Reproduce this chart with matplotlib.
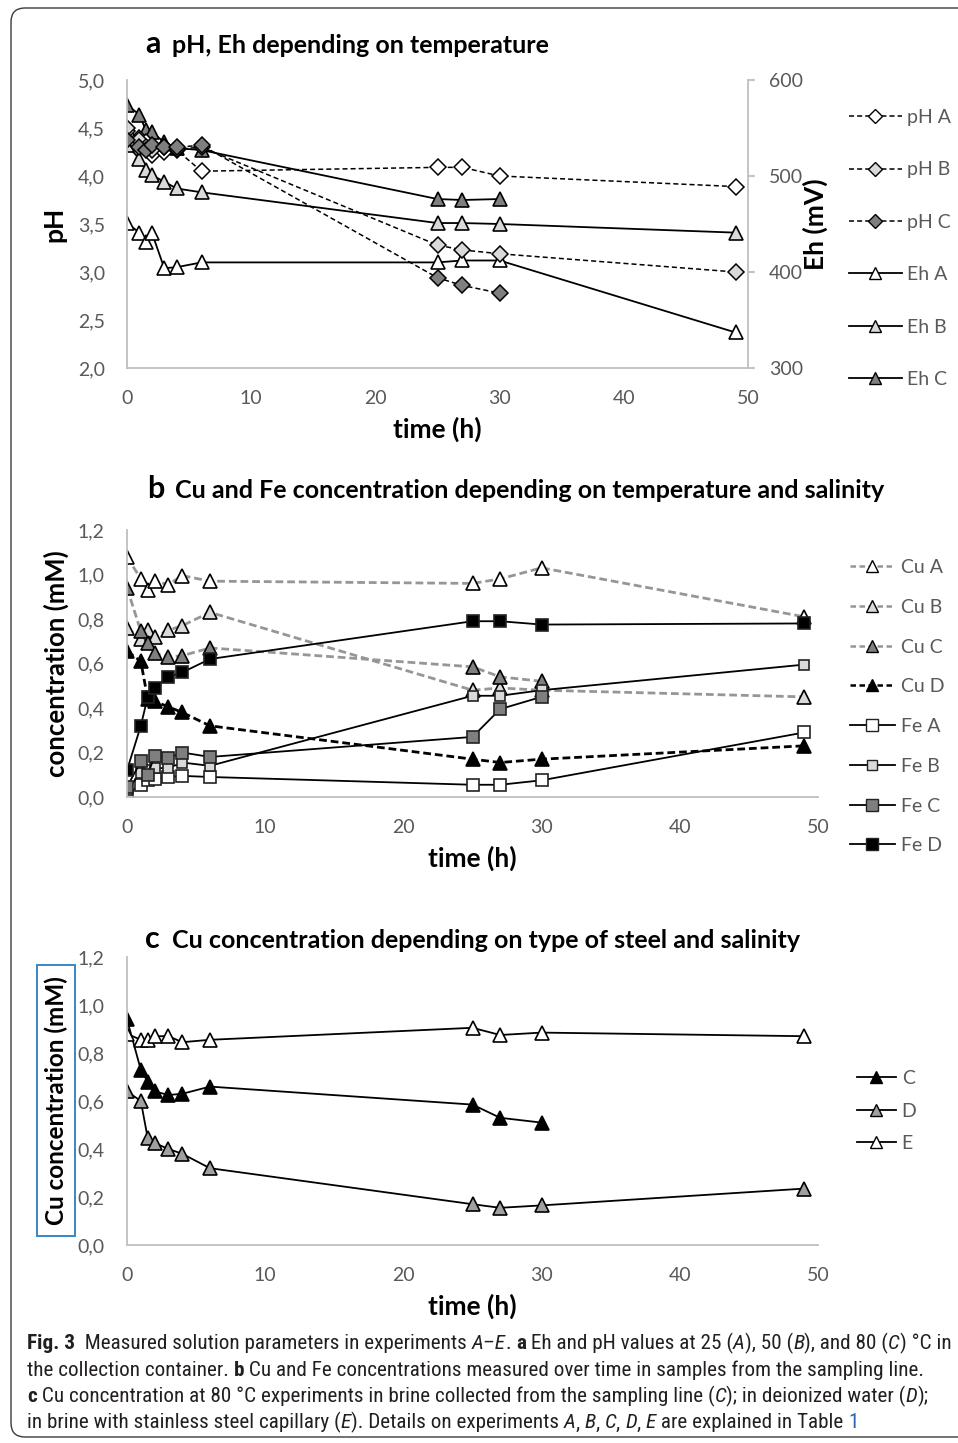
import numpy as np
import matplotlib.pyplot as plt
from matplotlib.lines import Line2D
from matplotlib.patches import FancyBboxPatch, Rectangle
from matplotlib.transforms import IdentityTransform

plt.rcParams['font.family'] = ['Lato', 'DejaVu Sans']

W, H = 958, 1443
TICK_GRAY = '#595959'
AXIS_GRAY = '#BFBFBF'
LIGHT = '#D9D9D9'
DARK = '#7F7F7F'
MIDG = '#A0A0A0'
CU_GRAY = '#969696'
CAP_FONT = ['Roboto Condensed', 'Noto Sans Condensed', 'Liberation Sans Narrow', 'DejaVu Sans']

# ---- panel a: pH / Eh vs time ----
time_a = [0, 1, 1.5, 2, 3, 4, 6, 25, 27, 30, 49]
time_a_c = [0, 1, 1.5, 2, 3, 4, 6, 25, 27, 30]
ph_A = [4.47, 4.40, 4.35, 4.22, 4.25, 4.27, 4.05, 4.09, 4.09, 4.00, 3.89]
ph_B = [4.50, 4.38, 4.30, 4.27, 4.30, 4.28, 4.30, 3.28, 3.23, 3.19, 3.00]
ph_C = [4.37, 4.30, 4.27, 4.32, 4.30, 4.30, 4.32, 2.94, 2.86, 2.78]
eh_A = [451, 441, 431, 441, 404, 405, 410, 410, 412, 412, 337]
eh_B = [532, 518, 506, 501, 494, 487, 483, 451, 451, 450, 441]
eh_C = [574, 564, 548, 546, 535, 529, 527, 476, 475, 476]
ph_ticks = [2.0, 2.5, 3.0, 3.5, 4.0, 4.5, 5.0]
ph_ticklabels = ['2,0', '2,5', '3,0', '3,5', '4,0', '4,5', '5,0']
eh_ticks = [300, 400, 500, 600]

# ---- panel b: Cu and Fe ----
time_b = [0, 1, 1.5, 2, 3, 4, 6, 25, 27, 30, 49]
time_b_c = [0, 1, 1.5, 2, 3, 4, 6, 25, 27, 30]
cu_A = [1.08, 0.98, 0.93, 0.97, 0.955, 0.995, 0.97, 0.96, 0.98, 1.03, 0.81]
cu_B = [0.76, 0.71, 0.75, 0.72, 0.75, 0.77, 0.83, 0.48, 0.49, 0.48, 0.45]
cu_C = [0.94, 0.745, 0.69, 0.645, 0.63, 0.635, 0.67, 0.585, 0.54, 0.52]
cu_D = [0.655, 0.61, 0.44, 0.43, 0.405, 0.38, 0.32, 0.17, 0.155, 0.17, 0.23]
fe_A = [0.01, 0.055, 0.075, 0.08, 0.09, 0.095, 0.09, 0.055, 0.055, 0.075, 0.29]
fe_B = [0.03, 0.11, 0.12, 0.13, 0.13, 0.155, 0.14, 0.455, 0.455, 0.48, 0.595]
fe_C = [0.045, 0.16, 0.10, 0.185, 0.175, 0.20, 0.18, 0.27, 0.395, 0.45]
fe_D = [0.12, 0.32, 0.45, 0.49, 0.54, 0.56, 0.62, 0.79, 0.79, 0.775, 0.78]

# ---- panel c: Cu by steel type ----
time_c = [0, 1, 1.5, 2, 3, 4, 6, 25, 27, 30, 49]
time_c_c = [0, 1, 1.5, 2, 3, 4, 6, 25, 27, 30]
cu_c_C = [0.94, 0.73, 0.68, 0.64, 0.625, 0.63, 0.66, 0.585, 0.53, 0.51]
cu_c_D = [0.64, 0.60, 0.445, 0.425, 0.40, 0.38, 0.32, 0.17, 0.155, 0.165, 0.235]
cu_c_E = [0.88, 0.855, 0.855, 0.87, 0.87, 0.845, 0.855, 0.905, 0.875, 0.885, 0.87]

conc_ticks = [0.0, 0.2, 0.4, 0.6, 0.8, 1.0, 1.2]
conc_ticklabels = ['0,0', '0,2', '0,4', '0,6', '0,8', '1,0', '1,2']
time_ticks = [0, 10, 20, 30, 40, 50]


def box(left, top, right, bottom):
    # pixel box -> figure fraction rect
    return [left / W, 1 - bottom / H, (right - left) / W, (bottom - top) / H]


def style_axis(ax):
    for s in ['top', 'right']:
        ax.spines[s].set_visible(False)
    for s in ['left', 'bottom']:
        ax.spines[s].set_color(AXIS_GRAY)
        ax.spines[s].set_linewidth(1.3)
    ax.tick_params(length=0, colors=TICK_GRAY, labelsize=14)
    ax.tick_params(axis='x', pad=16)
    ax.tick_params(axis='y', pad=16)
    ax.set_xlim(0, 50)
    ax.set_xticks(time_ticks)
    ax.set_xlabel('time (h)', fontsize=19, fontweight='bold', labelpad=7)


fig = plt.figure(figsize=(W / 100, H / 100), dpi=100)

frame = FancyBboxPatch((11, 6), 990, H - 14, boxstyle='round,pad=0,rounding_size=14',
                       transform=IdentityTransform(), fill=False, ec='#3a3a3a', lw=1.0)
fig.patches.append(frame)

ph_kw = dict(color='black', lw=1.1, dashes=(3.3, 2.0), marker='D', ms=8, mec='black', mew=1.1)
eh_kw = dict(color='black', lw=1.3, marker='^', ms=10, mec='black', mew=1.2)

# ---------- a ----------
ax_a = fig.add_axes(box(127, 80, 748, 368))
style_axis(ax_a)
ax_a.set_ylim(2.0, 5.0)
ax_a.set_yticks(ph_ticks)
ax_a.set_yticklabels(ph_ticklabels)
ax_a.set_ylabel('pH', fontsize=19, fontweight='bold', labelpad=8)
ax2 = ax_a.twinx()
ax2.set_ylim(300, 600)
ax2.set_yticks(eh_ticks)
for s in ['top', 'left', 'bottom']:
    ax2.spines[s].set_visible(False)
ax2.spines['right'].set_color(AXIS_GRAY)
ax2.spines['right'].set_linewidth(1.3)
ax2.tick_params(axis='y', length=5, width=1.3, color=AXIS_GRAY, labelcolor=TICK_GRAY,
                labelsize=14, pad=10)
ax2.set_ylabel('Eh (mV)', fontsize=19, fontweight='bold', labelpad=0)

ax2.plot(time_a, eh_A, mfc='white', **eh_kw)
ax2.plot(time_a, eh_B, mfc=LIGHT, **eh_kw)
ax2.plot(time_a_c, eh_C, mfc=DARK, **eh_kw)
ax_a.plot(time_a, ph_A, mfc='white', **ph_kw)
ax_a.plot(time_a, ph_B, mfc=LIGHT, **ph_kw)
ax_a.plot(time_a_c, ph_C, mfc=DARK, **ph_kw)
ax_a.set_zorder(ax2.get_zorder() + 1)
ax_a.patch.set_visible(False)

leg_kw = dict(frameon=False, fontsize=14, labelcolor=TICK_GRAY, handletextpad=0.3,
              borderaxespad=0, borderpad=0, numpoints=1)

h_a = [Line2D([], [], color='black', lw=1.1, dashes=(3.3, 2.0), marker='D', ms=7,
              mec='black', mfc=c) for c in ['white', LIGHT, DARK]]
h_a += [Line2D([], [], color='black', lw=1.3, marker='^', ms=9, mec='black', mfc=c)
        for c in ['white', LIGHT, DARK]]
fig.legend(h_a, ['pH A', 'pH B', 'pH C', 'Eh A', 'Eh B', 'Eh C'], loc='upper left',
           bbox_to_anchor=(849 / W, 1 - 109 / H), labelspacing=1.82, handlelength=2.7, **leg_kw)

fig.text(145 / W, 1 - 53 / H, 'a', fontsize=22, fontweight='bold')
fig.text(172 / W, 1 - 53 / H, 'pH, Eh depending on temperature', fontsize=18, fontweight='bold')

# ---------- b ----------
ax_b = fig.add_axes(box(127, 530, 818, 797))
style_axis(ax_b)
ax_b.set_ylim(0, 1.2)
ax_b.set_yticks(conc_ticks)
ax_b.set_yticklabels(conc_ticklabels)
ax_b.set_ylabel('concentration (mM)', fontsize=18.5, fontweight='bold', labelpad=6)

cu_kw = dict(lw=2.0, dashes=(2.8, 1.4), marker='^', ms=10, mec='black', mew=1.2)
fe_kw = dict(color='black', lw=1.3, marker='s', ms=9, mec='#222222', mew=1.2)
ax_b.plot(time_b, cu_A, color=CU_GRAY, mfc='white', **cu_kw)
ax_b.plot(time_b, cu_B, color=CU_GRAY, mfc=LIGHT, **cu_kw)
ax_b.plot(time_b_c, cu_C, color=CU_GRAY, mfc=DARK, **cu_kw)
ax_b.plot(time_b, cu_D, color='black', mfc='black', **cu_kw)
ax_b.plot(time_b, fe_A, mfc='white', **fe_kw)
ax_b.plot(time_b, fe_B, mfc=LIGHT, **dict(fe_kw, ms=7))
ax_b.plot(time_b_c, fe_C, mfc=DARK, **fe_kw)
ax_b.plot(time_b, fe_D, mfc='black', **fe_kw)

h_b = [Line2D([], [], color=CU_GRAY if c != 'black' else 'black', lw=1.8, dashes=(2.2, 1.4),
              marker='^', ms=8, mec='black', mfc=c) for c in ['white', LIGHT, DARK, 'black']]
h_b += [Line2D([], [], color='black', lw=1.3, marker='s', ms=m, mec='#222222', mfc=c)
        for c, m in [('white', 9), (LIGHT, 7), (DARK, 9), ('black', 9)]]
fig.legend(h_b, ['Cu A', 'Cu B', 'Cu C', 'Cu D', 'Fe A', 'Fe B', 'Fe C', 'Fe D'],
           loc='upper left', bbox_to_anchor=(850 / W, 1 - 559 / H), labelspacing=1.17,
           handlelength=2.3, **leg_kw)

fig.text(147 / W, 1 - 498 / H, 'b', fontsize=22, fontweight='bold')
fig.text(175 / W, 1 - 498 / H, 'Cu and Fe concentration depending on temperature and salinity',
         fontsize=18, fontweight='bold')

# ---------- c ----------
ax_c = fig.add_axes(box(127, 957, 818, 1245))
style_axis(ax_c)
ax_c.set_ylim(0, 1.2)
ax_c.set_yticks(conc_ticks)
ax_c.set_yticklabels(conc_ticklabels)
ax_c.set_ylabel('Cu concentration (mM)', fontsize=17.5, fontweight='bold', labelpad=7)

c_kw = dict(color='black', lw=1.3, marker='^', ms=9.5, mec='black', mew=1.2)
ax_c.plot(time_c_c, cu_c_C, mfc='black', **c_kw)
ax_c.plot(time_c, cu_c_D, mfc=MIDG, **c_kw)
ax_c.plot(time_c, cu_c_E, mfc='white', **c_kw)

h_c = [Line2D([], [], color='black', lw=1.3, marker='^', ms=9, mec='black', mfc=c)
       for c in ['black', MIDG, 'white']]
fig.legend(h_c, ['C', 'D', 'E'], loc='upper left', bbox_to_anchor=(857 / W, 1 - 1070 / H),
           labelspacing=0.8, handlelength=2.0, **leg_kw)

fig.text(145 / W, 1 - 948 / H, 'c', fontsize=22, fontweight='bold')
fig.text(172 / W, 1 - 948 / H, 'Cu concentration depending on type of steel and salinity',
         fontsize=18, fontweight='bold')

fig.patches.append(Rectangle((37, H - 1236), 38, 271, transform=IdentityTransform(),
                             fill=False, ec='#3C86C4', lw=1.4))

# ---------- caption ----------
renderer = fig.canvas.get_renderer()


def runs(x0, y0, parts, size, draw=True):
    x = x0
    for txt, kind in parts:
        kw = dict(fontsize=size, family=CAP_FONT, color='#231F20', va='baseline',
                  fontstretch='condensed')
        if kind == 'b':
            kw['fontweight'] = 'bold'
        elif kind == 'i':
            kw['fontstyle'] = 'italic'
        elif kind == 'l':
            kw['color'] = '#2B63B8'
        t = fig.text(x / W, 1 - y0 / H, txt, **kw)
        x += t.get_window_extent(renderer).width
        if not draw:
            t.remove()
    return x - x0


caption = [
    [('Fig. 3', 'b'), ('  Measured solution parameters in experiments ', 'r'), ('A–E', 'i'),
     ('. ', 'r'), ('a', 'b'), (' Eh and pH values at 25 (', 'r'), ('A', 'i'), ('), 50 (', 'r'),
     ('B', 'i'), ('), and 80 (', 'r'), ('C', 'i'), (') °C in', 'r')],
    [('the collection container. ', 'r'), ('b', 'b'),
     (' Cu and Fe concentrations measured over time in samples from the sampling line.', 'r')],
    [('c', 'b'), (' Cu concentration at 80 °C experiments in brine collected from the sampling line (', 'r'),
     ('C', 'i'), ('); in deionized water (', 'r'), ('D', 'i'), (');', 'r')],
    [('in brine with stainless steel capillary (', 'r'), ('E', 'i'),
     ('). Details on experiments ', 'r'), ('A', 'i'), (', ', 'r'), ('B', 'i'), (', ', 'r'),
     ('C', 'i'), (', ', 'r'), ('D', 'i'), (', ', 'r'), ('E', 'i'), (' are explained in Table ', 'r'),
     ('1', 'l')],
]
base = 13.5
widest = max(runs(27, 1343, line, base, draw=False) for line in caption)
cap_size = base * 922 / widest
for i, line in enumerate(caption):
    runs(27, 1349 + i * 26.5, line, cap_size)

fig.savefig('out.png', dpi=100)
